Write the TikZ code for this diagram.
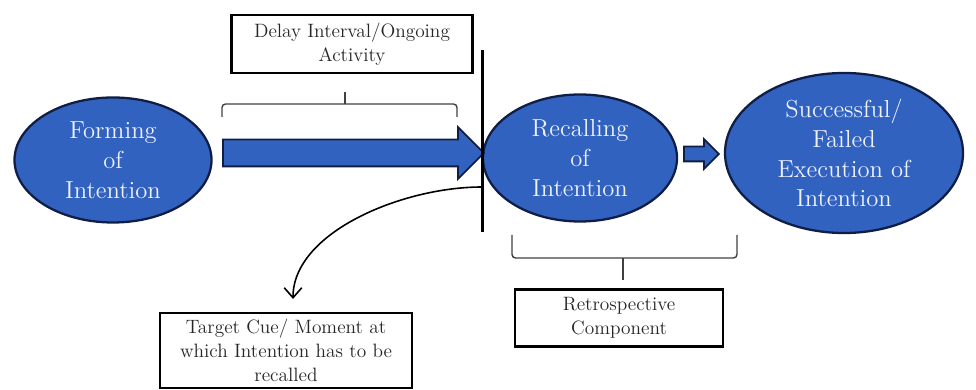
\documentclass[tikz,border=0pt]{standalone}
\usepackage{tikz}
\usetikzlibrary{shapes.geometric,shapes.arrows,arrows.meta,positioning,calc}
\definecolor{pmBlue}{RGB}{50,98,192}
\definecolor{pmNavy}{RGB}{16,30,70}
\definecolor{pmText}{RGB}{238,242,255}

\begin{document}
\begin{tikzpicture}[
    phase/.style={ellipse, draw=pmNavy, line width=1.3pt, fill=pmBlue, text=pmText,
      inner sep=0pt, align=center, font=\fontsize{14}{17}\selectfont},
    labelbox/.style={draw=black, line width=1.2pt, fill=white, text=black!85,
      align=center, font=\fontsize{11}{13.5}\selectfont},
    fatarrow/.style={single arrow, draw=pmNavy, line width=1pt, fill=pmBlue,
      inner xsep=0pt, anchor=tail},
    bracket/.style={draw=black!75, line width=0.8pt, rounded corners=2pt}]
  \useasboundingbox (0,0) rectangle (19.52,7.8);
  % Phases
  \node[phase, minimum width=3.94cm, minimum height=2.5cm]
    (form) at (2.26,4.6) {Forming\\of\\Intention};
  \node[phase, minimum width=3.88cm, minimum height=2.54cm]
    (recall) at (11.6,4.64) {Recalling\\of\\Intention};
  \node[phase, minimum width=4.76cm, minimum height=3.2cm]
    (exec) at (16.88,4.74) {Successful/\\Failed\\Execution of\\Intention};
  % Arrows between phases
  \node[fatarrow, inner ysep=0.25cm, single arrow head extend=0.25cm,
    minimum height=5.22cm] (delay) at (4.44,4.74) {};
  \node[fatarrow, inner ysep=0.13cm, single arrow head extend=0.15cm,
    minimum height=0.7cm] (go) at (13.66,4.72) {};
  % Cue line
  \coordinate (lntop) at (9.64,6.8);
  \coordinate (lnbot) at (9.64,3.16);
  \coordinate (cue) at (9.64,4.06);
  \draw[line width=1.7pt] (lntop) -- (lnbot);
  % Text boxes
  \node[labelbox, minimum width=4.82cm, minimum height=1.16cm]
    (dbox) at (7.04,6.92) {Delay Interval/Ongoing\\Activity};
  \node[labelbox, minimum width=4.16cm, minimum height=1.14cm]
    (rbox) at (12.38,1.44) {Retrospective\\Component};
  \node[labelbox, minimum width=5.04cm, minimum height=1.5cm]
    (tbox) at (5.72,0.79) {Target Cue/ Moment at\\which Intention has to be\\recalled};
  % Brackets
  \draw[bracket] (4.44,5.46) -- (4.44,5.72) -- (9.14,5.72) -- (9.14,5.46);
  \draw[bracket] (6.9,5.72) -- (6.9,5.96);
  \draw[bracket] (10.24,3.1) -- (10.24,2.64) -- (14.74,2.64) -- (14.74,3.1);
  \draw[bracket] (12.46,2.64) -- (12.46,2.2);
  % Cue pointer
  \draw[line width=0.9pt, -{Straight Barb[length=2mm, width=3.5mm]}, shorten >=0.26cm]
    (cue) to[out=180, in=90, looseness=0.9] ([xshift=0.14cm]tbox.north);
\end{tikzpicture}
\end{document}
